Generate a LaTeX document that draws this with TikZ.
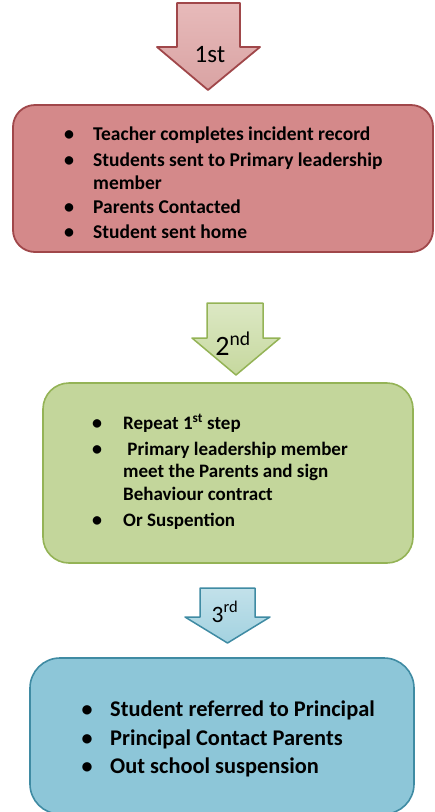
\documentclass[tikz,border=0pt]{standalone}
\usepackage{fontspec}
\setmainfont{Carlito}
\begin{document}
\begin{tikzpicture}[x=1pt,y=-1pt,
  redbox/.style={draw=bred,line width=1.8pt,fill=fred,rounded corners=22pt},
  greenbox/.style={draw=bgreen,line width=1.6pt,fill=fgreen,rounded corners=26pt},
  bluebox/.style={draw=bblue,line width=1.6pt,fill=fblue,rounded corners=30pt},
  line/.style={anchor=base west,inner sep=0pt,font=\bfseries\fontsize{19.5}{22}\selectfont},
  linetwo/.style={anchor=base west,inner sep=0pt,font=\bfseries\fontsize{19}{22}\selectfont},
  bigline/.style={anchor=base west,inner sep=0pt,font=\bfseries\fontsize{22.4}{26}\selectfont},
  bul/.style={anchor=base,inner sep=0pt,font=\bfseries\fontsize{20}{22}\selectfont},
  bigbul/.style={anchor=base,inner sep=0pt,font=\bfseries\fontsize{22}{24}\selectfont},
  lab/.style={anchor=base,inner sep=0pt}
]
\definecolor{bred}{HTML}{A0474A}
\definecolor{fred}{HTML}{D4898A}
\definecolor{ared}{HTML}{E7BABA}
\definecolor{ared2}{HTML}{D9A3A3}
\definecolor{bgreen}{HTML}{94B356}
\definecolor{fgreen}{HTML}{C3D69B}
\definecolor{agreen}{HTML}{DCE8C4}
\definecolor{agreen2}{HTML}{C6D89E}
\definecolor{bblue}{HTML}{3F8BA3}
\definecolor{fblue}{HTML}{8DC6D8}
\definecolor{ablue}{HTML}{C2E1EA}
\definecolor{ablue2}{HTML}{A3D2E0}
\useasboundingbox (0,0) rectangle (435,812);
\begin{scope}
\clip (0,0) rectangle (435,812);
% arrow 1
\path[draw=bred,line width=1.8pt,top color=ared,bottom color=ared2,line join=round]
  (177,3) -- (240,3) -- (240,47) -- (260,47) -- (208,90) -- (157,47) -- (177,47) -- cycle;
\node[lab,font=\fontsize{25}{28}\selectfont] (a1) at (210,62) {1st};
% box 1
\node[redbox,minimum width=420pt,minimum height=147pt] (box1) at (223,178.5) {};
\node[bul] (b1a) at (69,140) {•};
\node[line] (t1a) at (93,140) {Teacher completes incident record};
\node[bul] (b1b) at (69,166) {•};
\node[line] (t1b) at (93,166) {Students sent to Primary leadership};
\node[line] (t1c) at (93,189) {member};
\node[bul] (b1d) at (69,213) {•};
\node[line] (t1d) at (93,213) {Parents Contacted};
\node[bul] (b1e) at (69,238) {•};
\node[line] (t1e) at (93,238) {Student sent home};
% arrow 2
\path[draw=bgreen,line width=1.5pt,top color=agreen,bottom color=agreen2,line join=round]
  (207,303) -- (263,303) -- (263,338) -- (280,338) -- (236,375) -- (192,338) -- (207,338) -- cycle;
\node[lab,font=\fontsize{28}{30}\selectfont] (a2) at (233,355) {2\textsuperscript{nd}};
% box 2
\node[greenbox,minimum width=370pt,minimum height=180pt] (box2) at (228,473) {};
\node[bul] (b2a) at (97,429) {•};
\node[linetwo] (t2a) at (123,429) {Repeat 1\textsuperscript{st} step};
\node[bul] (b2b) at (97,455) {•};
\node[linetwo] (t2b) at (123,455) {\ Primary leadership member};
\node[linetwo] (t2c) at (123,477) {meet the Parents and sign};
\node[linetwo] (t2d) at (123,500) {Behaviour contract};
\node[bul] (b2e) at (97,526) {•};
\node[linetwo] (t2e) at (123,526) {Or Suspention};
% arrow 3
\path[draw=bblue,line width=1.5pt,top color=ablue,bottom color=ablue2,line join=round]
  (200,588) -- (255,588) -- (255,617) -- (270,617) -- (227.5,643) -- (185,617) -- (200,617) -- cycle;
\node[lab,font=\fontsize{23.5}{26}\selectfont] (a3) at (225,622) {3\textsuperscript{rd}};
% box 3
\node[bluebox,minimum width=384pt,minimum height=156pt] (box3) at (222,736) {};
\node[bigbul] (b3a) at (87,716) {•};
\node[bigline] (t3a) at (110,716) {Student referred to Principal};
\node[bigbul] (b3b) at (87,745) {•};
\node[bigline] (t3b) at (110,745) {Principal Contact Parents};
\node[bigbul] (b3c) at (87,773) {•};
\node[bigline] (t3c) at (110,773) {Out school suspension};
\end{scope}
\end{tikzpicture}
\end{document}
